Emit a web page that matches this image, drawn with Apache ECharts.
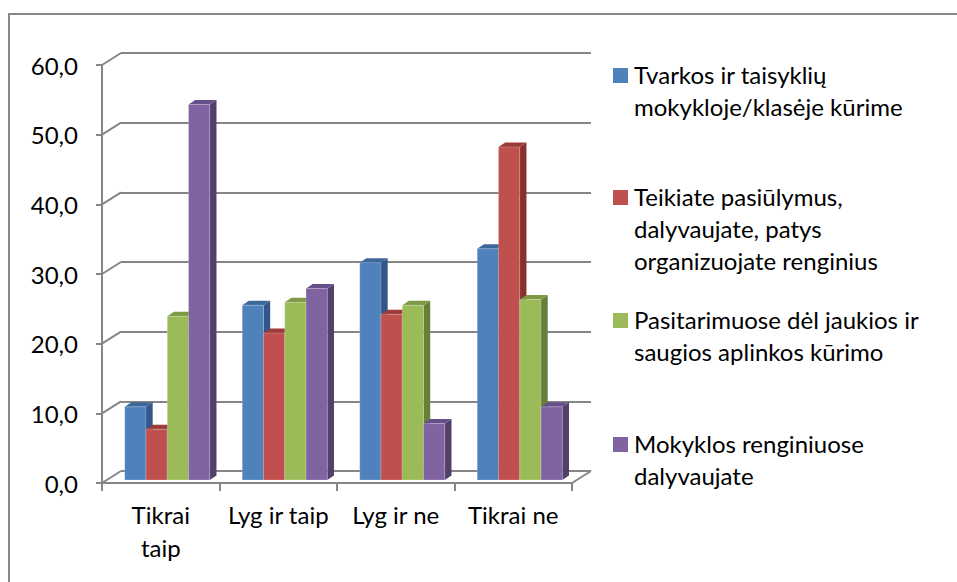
<!DOCTYPE html>
<html>
<head>
<meta charset="utf-8">
<script src="https://cdn.jsdelivr.net/npm/echarts@6/dist/echarts.min.js"></script>
<style>
  html, body { margin: 0; padding: 0; background: #fff; }
  #chart { width: 957px; height: 582px; }
</style>
</head>
<body>
<div id="chart"></div>
<script>
// data
var categories = ['Tikrai\ntaip', 'Lyg ir taip', 'Lyg ir ne', 'Tikrai ne'];
var seriesNames = [
  'Tvarkos ir taisyklių\nmokykloje/klasėje kūrime',
  'Teikiate pasiūlymus,\ndalyvaujate, patys\norganizuojate renginius',
  'Pasitarimuose dėl jaukios ir\nsaugios aplinkos kūrimo',
  'Mokyklos renginiuose\ndalyvaujate'
];
var tvarkos = [10.5, 25.1, 31.2, 33.2];
var teikiate = [7.3, 21.1, 23.8, 47.8];
var pasitarimuose = [23.5, 25.5, 25.1, 25.9];
var renginiuose = [53.9, 27.5, 8.1, 10.5];
var yTicks = [0, 10, 20, 30, 40, 50, 60];

var allSeries = [tvarkos, teikiate, pasitarimuose, renginiuose];
// front, top, side
var colors = [
  ['#4f81bd', '#3d679a', '#31578a'],
  ['#c0504d', '#9c3b39', '#87302e'],
  ['#9bbb59', '#7e9a44', '#687f38'],
  ['#8064a2', '#66508a', '#523f6b']
];
var FONT = 'Lato';
var FSIZE = 24;
var lineCol = '#868686';

var wallDX = 19, wallDY = 12;   // depth of the floor / back wall
var barDX = 6.7, barDY = 4.5;   // depth of each bar
var barShiftX = 6.5, barShiftY = 3;
var barRatio = 0.181;

var myChart = echarts.init(document.getElementById('chart'), null, { renderer: 'svg' });

function barRender(si) {
  var c = colors[si];
  return function (params, api) {
    var cat = api.value(0);
    var top = api.coord([cat, api.value(1)]);
    var base = api.coord([cat, 0]);
    var bw = api.size([1, 0])[0] * barRatio;
    var x0 = top[0] + (si - 1.5) * bw - bw / 2 + barShiftX;
    var yt = top[1] - barShiftY;
    var yb = base[1] - barShiftY;
    return {
      type: 'group',
      children: [{
        type: 'polygon',
        shape: { points: [[x0 + bw, yt], [x0 + bw + barDX, yt - barDY], [x0 + bw + barDX, yb - barDY], [x0 + bw, yb]] },
        style: { fill: c[2] }
      }, {
        type: 'polygon',
        shape: { points: [[x0, yt], [x0 + bw, yt], [x0 + bw + barDX, yt - barDY], [x0 + barDX, yt - barDY]] },
        style: { fill: c[1] }
      }, {
        type: 'rect',
        shape: { x: x0, y: yt, width: bw, height: yb - yt },
        style: { fill: c[0], stroke: 'rgba(255,255,255,0.35)', lineWidth: 0.6 }
      }]
    };
  };
}

// diagonals from the front axis to the back wall
function frameRender(params, api) {
  var p = api.coord([0, api.value(0)]);
  var x = params.coordSys.x;
  var children = [{
    type: 'line',
    shape: { x1: x, y1: p[1], x2: x + wallDX, y2: p[1] - wallDY },
    style: { stroke: lineCol, lineWidth: 2 }
  }];
  if (api.value(0) === 0) {
    var xr = x + params.coordSys.width;
    children.push({
      type: 'line',
      shape: { x1: xr, y1: p[1], x2: xr + wallDX, y2: p[1] - wallDY },
      style: { stroke: lineCol, lineWidth: 2 }
    });
  }
  return { type: 'group', children: children };
}

var series = [{
  type: 'custom',
  xAxisIndex: 0,
  yAxisIndex: 0,
  renderItem: frameRender,
  data: yTicks.map(function (v) { return [v]; }),
  encode: { y: 0 },
  z: 1,
  silent: true
}];
allSeries.forEach(function (arr, si) {
  series.push({
    type: 'custom',
    name: seriesNames[si],
    xAxisIndex: 0,
    yAxisIndex: 0,
    renderItem: barRender(si),
    data: arr.map(function (v, j) { return [j, v]; }),
    encode: { x: 0, y: 1 },
    z: 3
  });
});

// legend drawn on the right, first line beside the marker
var legendTops = [68, 190, 313, 437];
var graphics = [{
  type: 'rect',
  shape: { x: 9, y: 14, width: 1000, height: 700 },
  style: { fill: 'none', stroke: '#878787', lineWidth: 2 },
  z: -10,
  silent: true
}];
seriesNames.forEach(function (name, i) {
  graphics.push({
    type: 'rect',
    shape: { x: 613, y: legendTops[i], width: 15, height: 15 },
    style: { fill: colors[i][0] }
  });
  graphics.push({
    type: 'text',
    x: 634,
    y: legendTops[i] - 9.5,
    style: {
      text: name,
      fill: '#000',
      font: FSIZE + 'px ' + FONT,
      lineHeight: 32,
      verticalAlign: 'top'
    }
  });
});

var option = {
  animation: false,
  backgroundColor: '#fff',
  grid: [
    { left: 102, top: 65, width: 470, height: 418 },
    { left: 121, top: 53, width: 470, height: 418 }
  ],
  xAxis: [{
    type: 'category',
    gridIndex: 0,
    data: categories,
    axisLine: { lineStyle: { color: lineCol, width: 2 } },
    axisTick: { show: true, length: 8, lineStyle: { color: lineCol, width: 2 } },
    axisLabel: { color: '#000', fontFamily: FONT, fontSize: FSIZE, lineHeight: 33, margin: 15, interval: 0 },
    splitLine: { show: false }
  }, {
    type: 'category',
    gridIndex: 1,
    data: categories,
    show: false
  }],
  yAxis: [{
    type: 'value',
    gridIndex: 0,
    min: 0,
    max: 60,
    interval: 10,
    axisLine: { show: true, lineStyle: { color: lineCol, width: 2 } },
    axisTick: { show: true, length: 6, lineStyle: { color: lineCol, width: 2 } },
    axisLabel: {
      color: '#000', fontFamily: FONT, fontSize: FSIZE, margin: 24,
      formatter: function (v) { return v.toFixed(1).replace('.', ','); }
    },
    splitLine: { show: false }
  }, {
    type: 'value',
    gridIndex: 1,
    min: 0,
    max: 60,
    interval: 10,
    axisLine: { show: false },
    axisTick: { show: false },
    axisLabel: { show: false },
    splitLine: { show: true, lineStyle: { color: lineCol, width: 2 } }
  }],
  graphic: graphics,
  series: series
};
myChart.setOption(option);
</script>
</body>
</html>
